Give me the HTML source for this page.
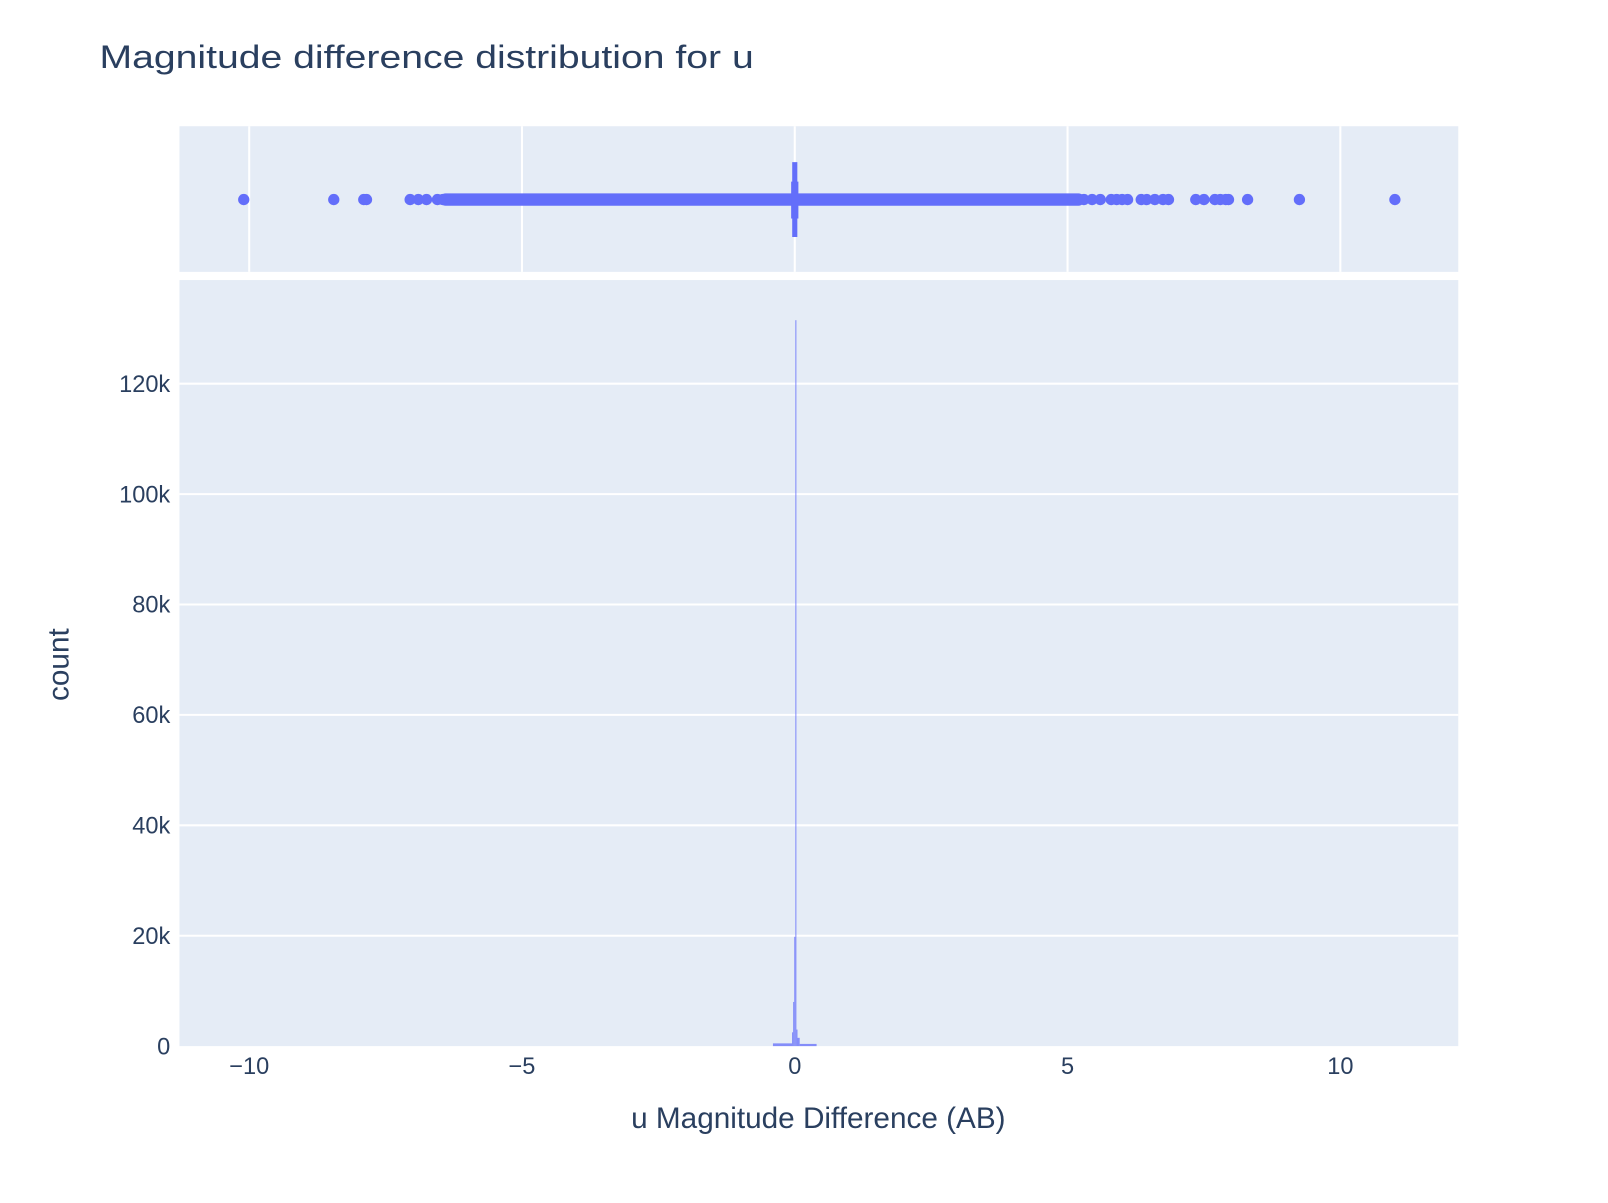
<!DOCTYPE html>
<html><head><meta charset="utf-8"><style>
body{margin:0;background:#fff}
svg text{font-family:"Liberation Sans",sans-serif;fill:#2a3f5f}
</style></head><body>
<svg id="chart" width="1608" height="1198" viewBox="0 0 1568 1168" xmlns="http://www.w3.org/2000/svg">
<rect width="1568" height="1168" fill="#fff"/>
<text x="97" y="66" font-size="32" textLength="638" lengthAdjust="spacingAndGlyphs">Magnitude difference distribution for u</text>
<rect x="175" y="123" width="1247" height="142" fill="#e5ecf6"/>
<rect x="175" y="273" width="1247" height="747" fill="#e5ecf6"/>
<g id="grid"></g>
<g id="marks"></g>
<g id="labels"></g>
<text x="798" y="1100" font-size="29" text-anchor="middle">u Magnitude Difference (AB)</text>
<text transform="translate(67,648) rotate(-90)" font-size="29" text-anchor="middle">count</text>
</svg>
<script>
const xTicks=[-10,-5,0,5,10];
const xTickLabels=["−10","−5","0","5","10"];
const yTicks=[0,20000,40000,60000,80000,100000,120000];
const yTickLabels=["0","20k","40k","60k","80k","100k","120k"];
const binStarts=[-0.4,-0.05,-0.03,-0.01,0.01,0.03,0.05,0.09];
const binEnds=[-0.05,-0.03,-0.01,0.01,0.03,0.05,0.09,0.4];
const binCounts=[500,2500,8000,19800,131500,3000,1500,400];
const outliers=[-10.1,-8.45,-7.9,-7.85,-7.05,-6.9,-6.75,-6.55,-6.45,-6.3,6.35,6.45,6.6,6.75,6.85,7.35,7.5,7.7,7.8,7.9,7.95,8.3,9.25,11.0,5.3,5.45,5.6,5.8,5.9,6.0,6.1];
const denseRange=[-6.4,5.2];
const boxStats=[-0.03,-0.01,0.0,0.01,0.03];
const NS="http://www.w3.org/2000/svg";
const xs=v=>775+v*53.2;
const ys=v=>1020-v*0.005383;
function mk(t,a,p){const e=document.createElementNS(NS,t);for(const k in a)e.setAttribute(k,a[k]);document.getElementById(p).appendChild(e);return e;}
xTicks.forEach((t,i)=>{
  let g=mk('line',{x1:xs(t),x2:xs(t),y1:123,y2:265,stroke:'#fff','stroke-width':2},'grid');
  
  
  let l=mk('text',{x:xs(t),y:1047,'font-size':23,'text-anchor':'middle'},'labels');
  l.textContent=xTickLabels[i];
  
  
});
yTicks.forEach((t,i)=>{
  if(t>0){let g=mk('line',{x1:175,x2:1422,y1:ys(t),y2:ys(t),stroke:'#fff','stroke-width':2},'grid');
  
  }
  let l=mk('text',{x:166,y:ys(t)+8,'font-size':23,'text-anchor':'end'},'labels');
  l.textContent=yTickLabels[i];
  
  
});
binCounts.forEach((c,i)=>{
  const x0=xs(binStarts[i]),x1=xs(binEnds[i]);
  let r=mk('rect',{x:x0,y:ys(c),width:Math.max(1,x1-x0),height:1020-ys(c),fill:'#636efa','fill-opacity':0.75},'marks');
  
  
});
let d=mk('line',{x1:xs(denseRange[0]),x2:xs(denseRange[1]),y1:194.5,y2:194.5,stroke:'#636efa','stroke-width':12,'stroke-linecap':'round'},'marks');


outliers.forEach(v=>{
  let c=mk('circle',{cx:xs(v),cy:194.5,r:5.5,fill:'#636efa'},'marks');
  
  
});
let w=mk('rect',{x:xs(boxStats[2])-2.5,y:158,width:5,height:73,fill:'#636efa'},'marks');


let b=mk('rect',{x:xs(boxStats[1])-3,y:177,width:xs(boxStats[3])-xs(boxStats[1])+6,height:36,fill:'#636efa'},'marks');


</script>
</body></html>
